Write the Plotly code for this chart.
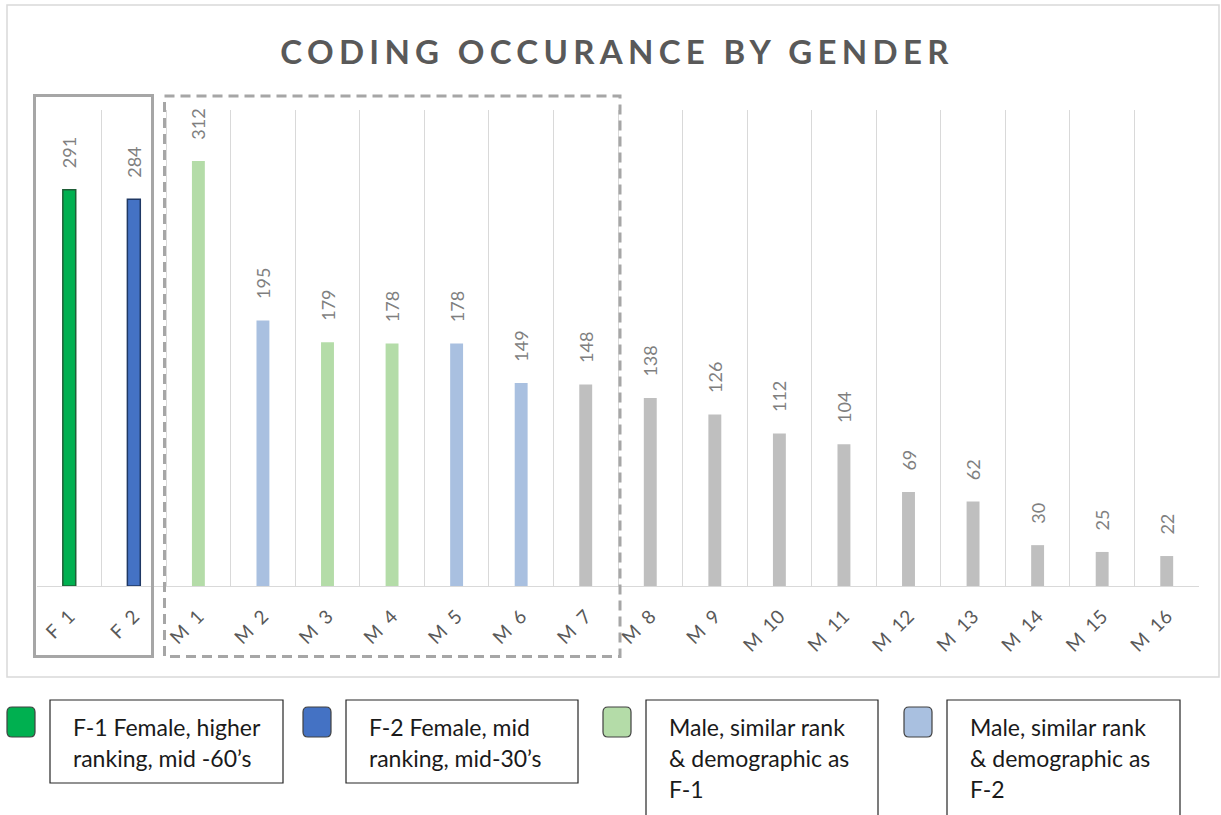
import plotly.graph_objects as go

# ── Dados ─────────────────────────────────────────────
categorias = ["F 1", "F 2", "M 1", "M 2", "M 3", "M 4", "M 5", "M 6", "M 7",
              "M 8", "M 9", "M 10", "M 11", "M 12", "M 13", "M 14", "M 15", "M 16"]
ocorrencias = [291, 284, 312, 195, 179, 178, 178, 149, 148,
               138, 126, 112, 104, 69, 62, 30, 25, 22]
grupos = ["f1", "f2", "mf1", "mf2", "mf1", "mf1", "mf2", "mf2", "outro",
          "outro", "outro", "outro", "outro", "outro", "outro", "outro", "outro", "outro"]

legenda_grupos = ["f1", "f2", "mf1", "mf2"]
legenda_textos = [
    ["F-1 Female, higher", "ranking, mid -60’s"],
    ["F-2 Female, mid", "ranking, mid-30’s"],
    ["Male, similar rank", "& demographic as", "F-1"],
    ["Male, similar rank", "& demographic as", "F-2"],
]

# ── Paleta ────────────────────────────────────────────
CORES = {"f1": "#00B050", "f2": "#4472C4", "mf1": "#B4DCA8", "mf2": "#A9C0E0", "outro": "#BFBFBF"}
BORDAS = {"f1": "#1E5E36", "f2": "#1F3864"}
FONTE = "Lato"

# ── Geometria (px) ────────────────────────────────────
W, H = 1221, 815
ML, MR, MT, MB = 37, 22, 110, 229
PW, PH = W - ML - MR, H - MT - MB


def px_x(px):
    return (px - ML) / PW


def px_y(py):
    return (H - MB - py) / PH


def retangulo(x0, y0, x1, y1, **kw):
    return dict(type="rect", xref="paper", yref="paper",
                x0=px_x(x0), x1=px_x(x1), y0=px_y(y0), y1=px_y(y1), **kw)


def quadrado_arredondado(x0, y0, x1, y1, r, **kw):
    X = lambda v: f"{px_x(v):.5f}"
    Y = lambda v: f"{px_y(v):.5f}"
    path = (f"M {X(x0 + r)} {Y(y0)} L {X(x1 - r)} {Y(y0)} Q {X(x1)} {Y(y0)} {X(x1)} {Y(y0 + r)} "
            f"L {X(x1)} {Y(y1 - r)} Q {X(x1)} {Y(y1)} {X(x1 - r)} {Y(y1)} "
            f"L {X(x0 + r)} {Y(y1)} Q {X(x0)} {Y(y1)} {X(x0)} {Y(y1 - r)} "
            f"L {X(x0)} {Y(y0 + r)} Q {X(x0)} {Y(y0)} {X(x0 + r)} {Y(y0)} Z")
    return dict(type="path", xref="paper", yref="paper", path=path, **kw)


fig = go.Figure()

fig.add_trace(go.Bar(
    x=categorias, y=ocorrencias,
    marker=dict(color=[CORES[g] for g in grupos],
                line=dict(color=[BORDAS.get(g, "rgba(0,0,0,0)") for g in grupos],
                          width=[1.5 if g in BORDAS else 0 for g in grupos])),
    texttemplate="\u00a0\u00a0\u00a0\u00a0%{y}",
    textposition="outside", textangle=-90, constraintext="none",
    textfont=dict(family=FONTE, size=18, color="#7F7F7F"),
    cliponaxis=False, hoverinfo="x+y", showlegend=False,
))

shapes = [
    # borda externa do gráfico
    retangulo(7, 5, 1219, 677, line=dict(color="#D9D9D9", width=1.5), layer="below"),
    # caixas de destaque
    retangulo(34.5, 95.5, 152.5, 656.5, line=dict(color="#A6A6A6", width=3)),
    retangulo(164.5, 96, 620, 656.5, line=dict(color="#A6A6A6", width=3, dash="10px,6px")),
]

annotations = []
quad_x = [7, 303, 603, 904]
caixa_x = [(50, 283), (346, 578), (646, 878), (947, 1180)]
for g, qx, (bx0, bx1), linhas in zip(legenda_grupos, quad_x, caixa_x, legenda_textos):
    shapes.append(quadrado_arredondado(qx, 707, qx + 28, 737, 5,
                                       fillcolor=CORES[g], line=dict(color="#404040", width=1.2)))
    y1 = 783 if len(linhas) == 2 else 820
    shapes.append(retangulo(bx0, 700, bx1, y1, line=dict(color="#262626", width=1.2)))
    for i, linha in enumerate(linhas):
        annotations.append(dict(
            text=linha, xref="paper", yref="paper",
            x=px_x(bx0 + 21), y=px_y(727 + i * 31),
            xanchor="left", yanchor="middle", showarrow=False,
            font=dict(family=FONTE, size=23, color="#1A1A1A"),
        ))

fig.update_layout(
    width=W, height=H,
    margin=dict(l=ML, r=MR, t=MT, b=MB),
    paper_bgcolor="white", plot_bgcolor="white",
    bargap=0.8,
    title=dict(text="<span style='letter-spacing:5.3px'><b>CODING OCCURANCE BY GENDER</b></span>",
               x=617 / W, xref="container", xanchor="center",
               y=1 - 52 / H, yref="container", yanchor="middle",
               font=dict(family=FONTE, size=33, color="#595959")),
    xaxis=dict(type="category", tickson="boundaries", showgrid=True, gridcolor="#D9D9D9",
               gridwidth=1, showline=True, linecolor="#D9D9D9", linewidth=1,
               ticks="", tickangle=-45, ticklabelstandoff=11,
               tickvals=categorias,
               ticktext=[c.replace(" ", "\u00a0\u00a0") for c in categorias],
               tickfont=dict(family=FONTE, size=19, color="#595959")),
    yaxis=dict(range=[0, 349.5], visible=False, showgrid=False),
    shapes=shapes, annotations=annotations,
)

fig.write_html("out.html", config={"displayModeBar": False},
               post_script="document.body.style.margin='0';")
